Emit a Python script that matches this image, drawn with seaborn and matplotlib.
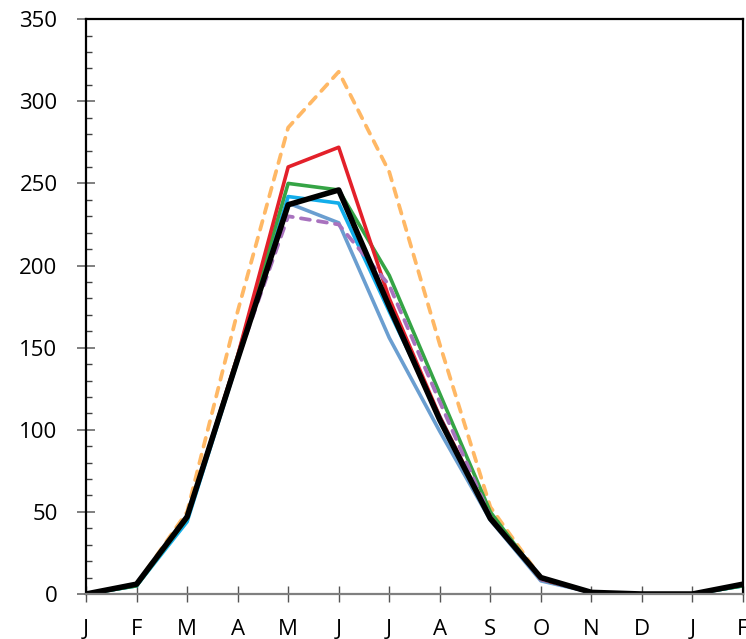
import matplotlib
matplotlib.use("Agg")
import matplotlib.pyplot as plt
from matplotlib.ticker import MultipleLocator
import seaborn as sns
import pandas as pd
import numpy as np

months = ["J", "F", "M", "A", "M", "J", "J", "A", "S", "O", "N", "D", "J", "F"]

orange_dashed = [0, 6, 50, 172, 284, 318, 257, 152, 53, 10, 1, 0, 0, 6]
red = [0, 6, 47, 145, 260, 272, 180, 108, 47, 9, 1, 0, 0, 6]
green = [0, 5, 46, 145, 250, 246, 194, 122, 50, 9, 1, 0, 0, 5]
light_blue = [0, 5, 44, 142, 242, 238, 172, 108, 46, 9, 1, 0, 0, 5]
steel_blue = [0, 5, 46, 143, 238, 226, 156, 99, 45, 8, 1, 0, 0, 5]
purple_dashed = [0, 6, 47, 143, 230, 225, 188, 117, 47, 9, 1, 0, 0, 6]
black = [0, 6, 47, 143, 237, 246, 175, 106, 46, 10, 1, 0, 0, 6]

series = [
    ("orange", orange_dashed, "#FFB865", 2.7, (2.4, 2.2)),
    ("steel", steel_blue, "#6A9ED0", 2.6, None),
    ("lightblue", light_blue, "#12ADEA", 2.6, None),
    ("green", green, "#35A445", 2.6, None),
    ("red", red, "#E3202A", 2.6, None),
    ("purple", purple_dashed, "#A872BE", 2.7, (2.4, 2.2)),
    ("black", black, "#000000", 4.0, None),
]

sns.set_style("white")
plt.rcParams['font.family'] = ['Open Sans', 'DejaVu Sans']

fig = plt.figure(figsize=(7.46, 6.39), dpi=100)
ax = fig.add_axes([0.1153, 0.0704, 0.8807, 0.8996])

x = np.arange(len(months))
for name, vals, col, lw, dash in series:
    df = pd.DataFrame({"x": x, "y": vals})
    sns.lineplot(data=df, x="x", y="y", ax=ax, color=col, linewidth=lw)
    l = ax.lines[-1]
    if dash is not None:
        l.set_dashes(dash)
        l.set_dash_capstyle("round")

ax.set_xlim(0, len(months) - 1)
ax.set_ylim(0, 350)
ax.set_xticks(x)
ax.set_xticklabels(months)
ax.yaxis.set_major_locator(MultipleLocator(50))
ax.yaxis.set_minor_locator(MultipleLocator(10))
ax.set_xlabel("")
ax.set_ylabel("")

for s in ["left", "top", "right"]:
    ax.spines[s].set_color("black")
    ax.spines[s].set_linewidth(1.6)
ax.spines["bottom"].set_color("#7f7f7f")
ax.spines["bottom"].set_linewidth(1.6)

ax.tick_params(axis="y", which="major", direction="inout", length=13, width=1.4,
               color="#7f7f7f", labelsize=16, pad=14, left=True)
ax.tick_params(axis="y", which="minor", direction="in", length=4.5, width=1.0,
               color="#404040", left=True)
ax.tick_params(axis="x", which="major", direction="inout", length=12, width=1.0,
               color="#555555", labelsize=16, pad=12, bottom=True)
for lab in ax.get_xticklabels() + ax.get_yticklabels():
    lab.set_color("black")

fig.savefig("out.png", dpi=100)
